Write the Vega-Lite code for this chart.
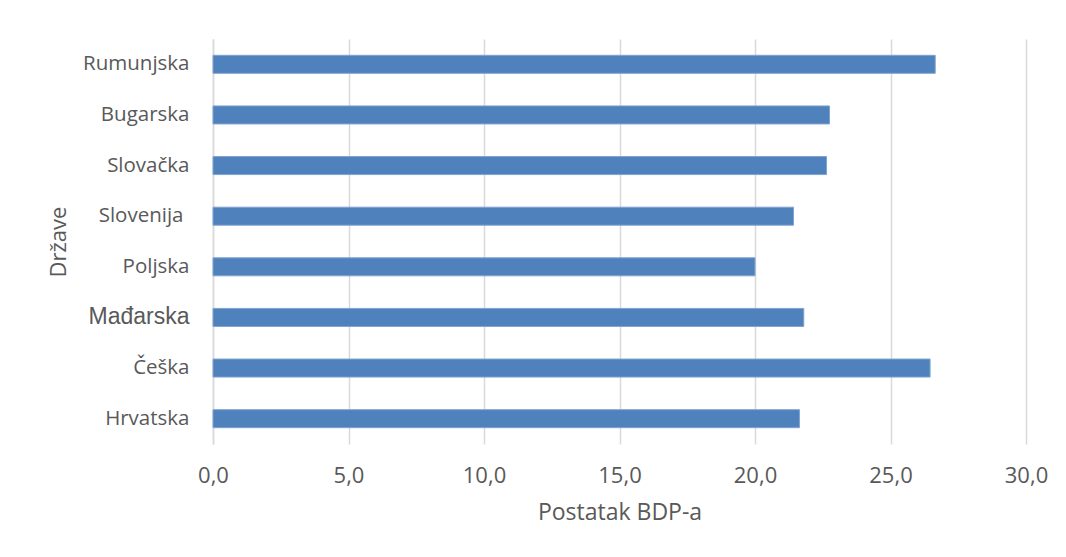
{
  "$schema": "https://vega.github.io/schema/vega-lite/v6.json",
  "autosize": {"type": "none"},
  "width": 813,
  "height": 405,
  "padding": {"left": 213, "top": 39, "right": 40, "bottom": 113},
  "background": "white",
  "data": {
    "values": [
      {"drzava": "Rumunjska", "vrijednost": 26.65},
      {"drzava": "Bugarska", "vrijednost": 22.75},
      {"drzava": "Slovačka", "vrijednost": 22.64},
      {"drzava": "Slovenija", "vrijednost": 21.42},
      {"drzava": "Poljska", "vrijednost": 20.0},
      {"drzava": "Mađarska", "vrijednost": 21.8},
      {"drzava": "Češka", "vrijednost": 26.46},
      {"drzava": "Hrvatska", "vrijednost": 21.64}
    ]
  },
  "mark": {"type": "bar", "color": "#4f81bd", "stroke": "#7fa3d1", "strokeWidth": 1},
  "encoding": {
    "y": {
      "field": "drzava",
      "type": "nominal",
      "sort": null,
      "scale": {"paddingInner": 0.644, "paddingOuter": 0.322},
      "axis": {
        "title": "Države",
        "titleFont": "Open Sans",
        "titleFontSize": 22,
        "titleFontWeight": "normal",
        "titleColor": "#595959",
        "titlePadding": 12,
        "labelFont": {"condition": {"test": "datum.value == 'Mađarska'", "value": "Liberation Sans"}, "value": "Open Sans"},
        "labelFontSize": {"condition": {"test": "datum.value == 'Mađarska'", "value": 23}, "value": 20.5},
        "labelPadding": {"condition": {"test": "datum.value == 'Slovenija'", "value": 30}, "value": 24},
        "labelColor": "#595959",
        "ticks": false,
        "domain": true,
        "domainColor": "#d9d9d9",
        "domainWidth": 1.5,
        "grid": false
      }
    },
    "x": {
      "field": "vrijednost",
      "type": "quantitative",
      "scale": {"domain": [0, 30], "nice": false},
      "axis": {
        "title": "Postatak BDP-a",
        "titleFont": "Open Sans",
        "titleFontSize": 23,
        "titleFontWeight": "normal",
        "titleColor": "#595959",
        "titlePadding": 15,
        "values": [0, 5, 10, 15, 20, 25, 30],
        "labelExpr": "replace(format(datum.value, '.1f'), '.', ',')",
        "labelFont": "Open Sans",
        "labelFontSize": 22,
        "labelColor": "#595959",
        "labelPadding": 21,
        "labelFlush": false,
        "ticks": false,
        "domain": false,
        "grid": true,
        "gridColor": "#d9d9d9",
        "gridWidth": 1.5
      }
    }
  },
  "config": {"view": {"stroke": null}}
}
